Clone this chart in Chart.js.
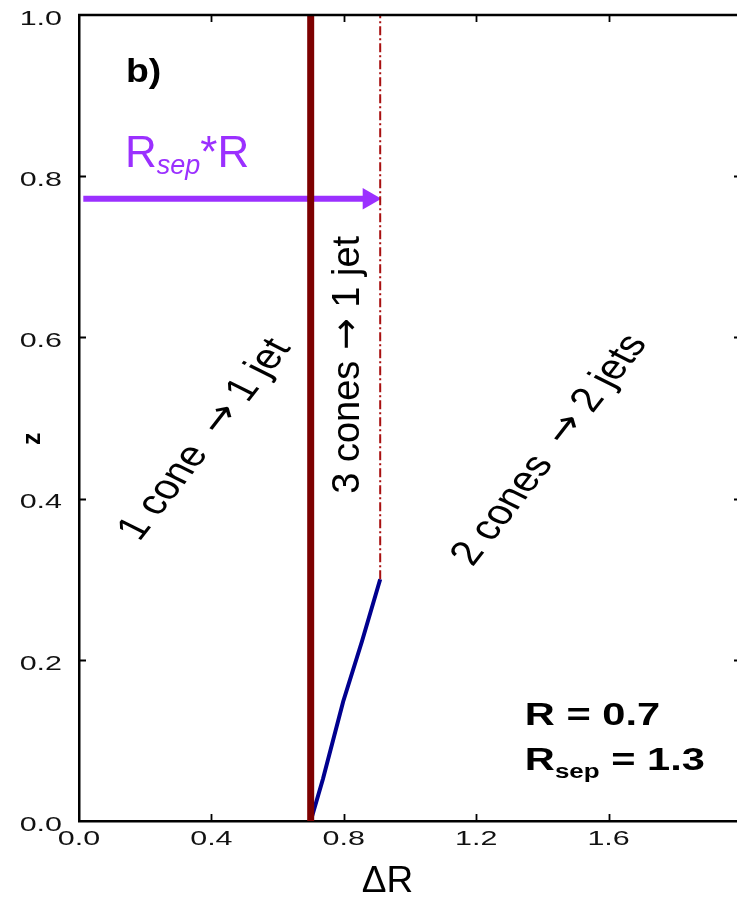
<!DOCTYPE html>
<html>
<head>
<meta charset="utf-8">
<script src="https://cdn.jsdelivr.net/npm/chart.js@4.4.1/dist/chart.umd.min.js"></script>
<style>
  html, body { margin: 0; padding: 0; background: #fff; overflow: hidden; }
  #wrap { width: 737px; height: 900px; position: relative; }
</style>
</head>
<body>
<div id="wrap"><canvas id="c"></canvas></div>
<script>
// ---------------- data ----------------
const xTickValues = [0, 0.4, 0.8, 1.2, 1.6];
const xTickLabels = ['0.0', '0.4', '0.8', '1.2', '1.6'];
const yTickValues = [0, 0.2, 0.4, 0.6, 0.8, 1.0];
const yTickLabels = ['0.0', '0.2', '0.4', '0.6', '0.8', '1.0'];
const xAxisTitle = 'ΔR';
const yAxisTitle = 'z';

// cone radius R = 0.7 (solid dark red)
const coneX = [0.7, 0.7];
const coneY = [0.0, 1.0];
// Rsep*R = 0.91 (dash-dot)
const sepX = [0.91, 0.91];
const sepY = [0.30, 1.0];
// boundary 3 cones -> 1 jet / 2 jets (blue)
const boundaryX = [0.70, 0.737, 0.798, 0.855, 0.91];
const boundaryY = [0.00, 0.052, 0.148, 0.223, 0.30];
// purple arrow Rsep*R
const arrowX = [0.013, 0.876];
const arrowY = [0.772, 0.772];

const panelLabel = 'b)';
const regionLabels = ['1 cone  \u2192 1 jet', '3 cones \u2192 1 jet', '2 cones  \u2192 2 jets'];
const regionX = [0.381, 0.813, 1.423];
const regionY = [0.473, 0.566, 0.460];
const paramR = 'R = 0.7';
const paramRsepValue = ' = 1.3';

// ---------------- helpers ----------------
const TICK_SX = 1.45;
const origFill = CanvasRenderingContext2D.prototype.fillText;
CanvasRenderingContext2D.prototype.fillText = function (t, x, y, mw) {
  if (this.font.indexOf('21px') >= 0) {
    this.save();
    this.translate(x, y + (this.textAlign === 'right' ? 4 : 0));
    this.scale(TICK_SX, 1);
    origFill.call(this, t, 0, 0);
    this.restore();
    return;
  }
  return origFill.call(this, t, x, y, mw);
};

function pts(xs, ys) { return xs.map((x, i) => ({ x: x, y: ys[i] })); }

function txt(ctx, s, x, y, o) {
  ctx.save();
  ctx.translate(x, y);
  ctx.scale(o.sx || 1, 1);
  if (o.rot) ctx.rotate(o.rot * Math.PI / 180);
  ctx.font = o.font;
  ctx.fillStyle = o.color || '#000';
  ctx.textAlign = o.align || 'left';
  ctx.textBaseline = o.baseline || 'alphabetic';
  ctx.fillText(s, 0, 0);
  const w = ctx.measureText(s).width * (o.sx || 1);
  ctx.restore();
  return w;
}

// draws a label whose arrow glyph uses a font with a full-size arrow
function arrowLabel(ctx, s, cx, cy, size, sx, rot) {
  const parts = s.split('\u2192');
  const runs = [
    { t: parts[0], f: size + 'px ' + FONT },
    { t: '\u2192', f: size + 'px "DejaVu Sans"' },
    { t: parts[1], f: size + 'px ' + FONT }
  ];
  ctx.save();
  ctx.translate(cx, cy);
  ctx.scale(sx, 1);
  ctx.rotate(rot * Math.PI / 180);
  ctx.fillStyle = '#000';
  ctx.textAlign = 'left';
  ctx.textBaseline = 'middle';
  let total = 0;
  runs.forEach(r => { ctx.font = r.f; r.w = ctx.measureText(r.t).width; total += r.w; });
  let x = -total / 2;
  runs.forEach(r => { ctx.font = r.f; ctx.fillText(r.t, x, 0); x += r.w; });
  ctx.restore();
}

const FONT = '"Liberation Sans", Arial, Helvetica, sans-serif';
const PURPLE = '#9b30ff';

const annot = {
  id: 'annot',
  afterDraw(chart) {
    const ctx = chart.ctx;
    const xs = chart.scales.x, ys = chart.scales.y;
    const a = chart.chartArea;
    ctx.save();
    // top border
    ctx.strokeStyle = '#000';
    ctx.lineWidth = 2.5;
    ctx.beginPath(); ctx.moveTo(a.left - 1, a.top); ctx.lineTo(a.right, a.top); ctx.stroke();
    // inward ticks
    ctx.lineWidth = 1.8;
    ctx.beginPath();
    xTickValues.forEach(v => {
      if (v === 0) return;
      const px = Math.round(xs.getPixelForValue(v)) + 0.5;
      ctx.moveTo(px, a.bottom); ctx.lineTo(px, a.bottom - 7);
      ctx.moveTo(px, a.top); ctx.lineTo(px, a.top + 7);
    });
    yTickValues.forEach(v => {
      if (v === 0 || v === 1) return;
      const py = Math.round(ys.getPixelForValue(v)) + 0.5;
      ctx.moveTo(a.left, py); ctx.lineTo(a.left + 7, py);
      ctx.moveTo(a.right, py); ctx.lineTo(a.right - 3, py);
    });
    ctx.stroke();

    // panel label
    txt(ctx, panelLabel, xs.getPixelForValue(0.142), ys.getPixelForValue(0.917),
        { font: 'bold 34px ' + FONT, sx: 1.1 });

    // Rsep*R purple
    let px = xs.getPixelForValue(0.139), py = ys.getPixelForValue(0.811);
    px += txt(ctx, 'R', px, py, { font: '44px ' + FONT, color: PURPLE });
    px += txt(ctx, 'sep', px, py + 7, { font: 'italic 27px ' + FONT, color: PURPLE });
    px += txt(ctx, '*', px, py, { font: '44px ' + FONT, color: PURPLE });
    txt(ctx, 'R', px, py, { font: '44px ' + FONT, color: PURPLE });

    // region labels
    arrowLabel(ctx, regionLabels[0], xs.getPixelForValue(regionX[0]), ys.getPixelForValue(regionY[0]), 35, 1.25, -58);
    arrowLabel(ctx, regionLabels[1], xs.getPixelForValue(regionX[1]), ys.getPixelForValue(regionY[1]), 38, 1.0, -90);
    arrowLabel(ctx, regionLabels[2], xs.getPixelForValue(regionX[2]), ys.getPixelForValue(regionY[2]), 35, 1.25, -58);

    // parameters
    const bx = xs.getPixelForValue(1.347);
    txt(ctx, paramR, bx, ys.getPixelForValue(0.119), { font: 'bold 32px ' + FONT, sx: 1.3 });
    let qx = bx, qy = ys.getPixelForValue(0.063);
    qx += txt(ctx, 'R', qx, qy, { font: 'bold 32px ' + FONT, sx: 1.3 });
    qx += txt(ctx, 'sep', qx, qy + 8, { font: 'bold 20px ' + FONT, sx: 1.3 });
    txt(ctx, paramRsepValue, qx, qy, { font: 'bold 32px ' + FONT, sx: 1.3 });
    ctx.restore();
  }
};

function zeroPad(s) { s.paddingTop = 0; s.paddingBottom = 0; s.paddingLeft = 0; s.paddingRight = 0; }

new Chart(document.getElementById('c'), {
  type: 'line',
  data: {
    datasets: [
      { data: pts(coneX, coneY), borderColor: '#7d0000', borderWidth: 7, pointRadius: 0, borderCapStyle: 'butt' },
      { data: pts(sepX, sepY), borderColor: '#a81010', borderWidth: 2, borderDash: [9, 3, 2, 3], pointRadius: 0 },
      { data: pts(boundaryX, boundaryY), borderColor: '#00008f', borderWidth: 4, pointRadius: 0 },
      { data: pts(arrowX, arrowY), borderColor: PURPLE, borderWidth: 6, backgroundColor: PURPLE,
        pointRadius: [0, 12.5], pointStyle: 'triangle', pointRotation: 90,
        pointBackgroundColor: PURPLE, pointBorderWidth: 0, pointBorderColor: PURPLE }
    ]
  },
  options: {
    responsive: true,
    maintainAspectRatio: false,
    animation: false,
    events: [],
    layout: { autoPadding: false, padding: { top: 15, right: 0, bottom: 0, left: 0 } },
    plugins: { legend: { display: false }, tooltip: { enabled: false } },
    scales: {
      x: {
        type: 'linear', min: 0, max: 1.988,
        afterFit: s => { s.height = 79; zeroPad(s); },
        afterBuildTicks: s => { s.ticks = xTickValues.map(v => ({ value: v })); },
        ticks: {
          padding: 6, color: '#111', maxRotation: 0, autoSkip: false,
          font: { family: FONT, size: 21 },
          callback: (v) => { const i = xTickValues.indexOf(v); return i >= 0 ? xTickLabels[i] : ''; }
        },
        grid: { display: false, drawTicks: false },
        border: { display: true, color: '#000', width: 2.5 },
        title: { display: true, text: xAxisTitle + '    ', color: '#000',
                 font: { family: FONT, size: 37, lineHeight: 1 }, padding: { top: 0, bottom: 0 } }
      },
      y: {
        type: 'linear', min: 0, max: 1,
        afterFit: s => { s.width = 79; zeroPad(s); },
        afterBuildTicks: s => { s.ticks = yTickValues.map(v => ({ value: v })); },
        ticks: {
          padding: 17, color: '#111', autoSkip: false,
          font: { family: FONT, size: 21 },
          callback: (v) => { const i = yTickValues.indexOf(v); return i >= 0 ? yTickLabels[i] : ''; }
        },
        grid: { display: false, drawTicks: false },
        border: { display: true, color: '#000', width: 2.5 },
        title: { display: true, text: yAxisTitle + '      ', color: '#000',
                 font: { family: FONT, size: 25, weight: 'bold', lineHeight: 1.2 }, padding: { top: 18, bottom: 0 } }
      }
    }
  },
  plugins: [annot]
});
</script>
</body>
</html>
